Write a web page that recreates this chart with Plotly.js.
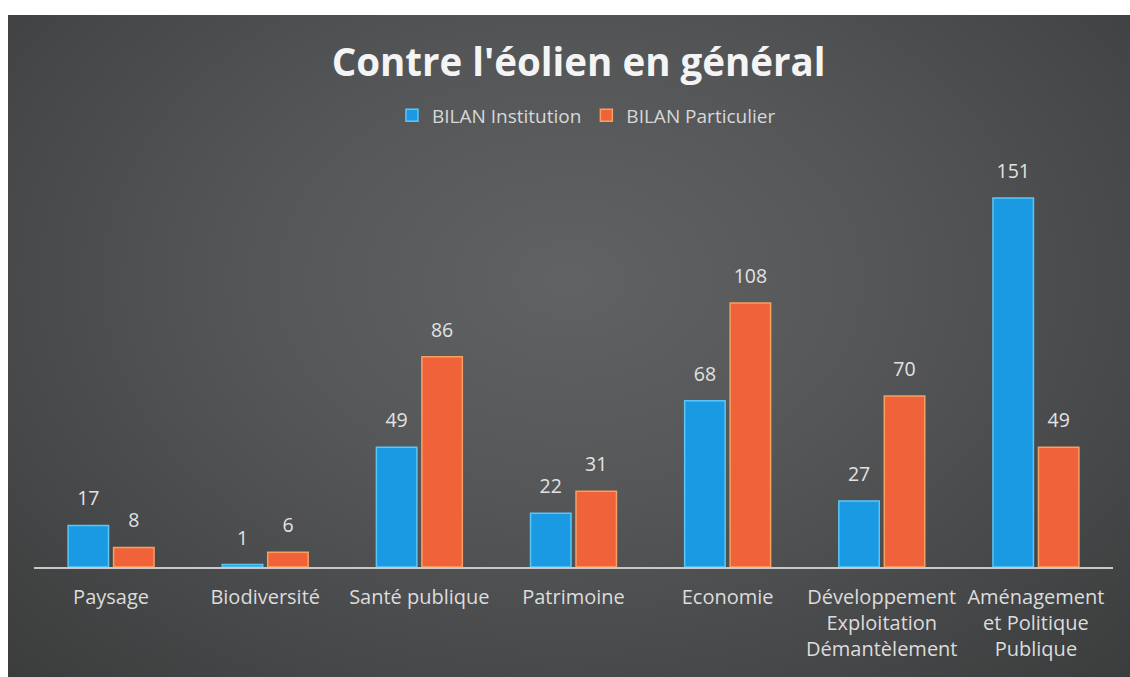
<!DOCTYPE html>
<html><head><meta charset="utf-8">
<script src="https://cdn.plot.ly/plotly-3.0.1.min.js"></script>
<style>
html,body{margin:0;padding:0;background:#fff;}
#wrap{position:relative;width:1130px;height:677px;overflow:hidden;}
#bg{position:absolute;left:8px;top:15px;width:1122px;height:662px;
background:radial-gradient(ellipse at 50% 40%, #606264 0%, #545658 40%, #464748 75%, #3b3c3c 100%);}
#chart{position:absolute;left:0;top:0;width:1130px;height:677px;}
</style></head>
<body><div id="wrap"><div id="bg"></div><div id="chart"></div></div>
<script>
const categories = ["Paysage","Biodiversité","Santé publique","Patrimoine","Economie","Développement<br>Exploitation<br>Démantèlement","Aménagement<br>et Politique<br>Publique"];
const institution = [17,1,49,22,68,27,151];
const particulier = [8,6,86,31,108,70,49];
const seriesNames = ["BILAN Institution","BILAN Particulier"];

const font = "'Open Sans', Lato, sans-serif";
const traces = [
  {type:'bar', name:seriesNames[0], x:categories, y:institution,
   marker:{color:'#1a9ae2', line:{color:'#5cc6f6', width:1.5}},
   text:institution.map(String), textposition:'outside', cliponaxis:false,
   textfont:{color:'#e2e2e2', size:19.5, family:font}},
  {type:'bar', name:seriesNames[1], x:categories, y:particulier,
   marker:{color:'#f0633a', line:{color:'#f8a060', width:1.5}},
   text:particulier.map(String), textposition:'outside', cliponaxis:false,
   textfont:{color:'#e2e2e2', size:19.5, family:font}}
];
const layout = {
  width:1130, height:677,
  paper_bgcolor:'rgba(0,0,0,0)', plot_bgcolor:'rgba(0,0,0,0)',
  margin:{l:34, r:17, t:176, b:110},
  title:{text:"<b>Contre l'éolien en général</b>", x:0.512, xanchor:'center', y:0.908, yanchor:'middle',
    font:{family:font, size:38.5, color:'#f4f4f4'}},
  showlegend:true,
  legend:{orientation:'h', x:0.512, xanchor:'center', y:1.155, yanchor:'middle',
    font:{family:font, size:19, color:'#d8d8d8'}, bgcolor:'rgba(0,0,0,0)', traceorder:'normal',
    itemwidth:30},
  barmode:'group', bargap:0.41, bargroupgap:0.11,
  xaxis:{type:'category', showline:true, linecolor:'#c8c8c8', linewidth:2, ticks:'outside', ticklen:11,
    tickcolor:'rgba(0,0,0,0)', showgrid:false,
    tickfont:{family:font, size:20, color:'#dcdcdc'}, fixedrange:true},
  yaxis:{range:[0,160], visible:false, showgrid:false, zeroline:false, fixedrange:true}
};
Plotly.newPlot('chart', traces, layout, {displayModeBar:false, staticPlot:true}).then(function(){
  document.querySelectorAll('#chart .bars .point text').forEach(function(t){
    t.setAttribute('transform', (t.getAttribute('transform')||'') + ' translate(0,-11)');
  });
});
</script></body></html>
